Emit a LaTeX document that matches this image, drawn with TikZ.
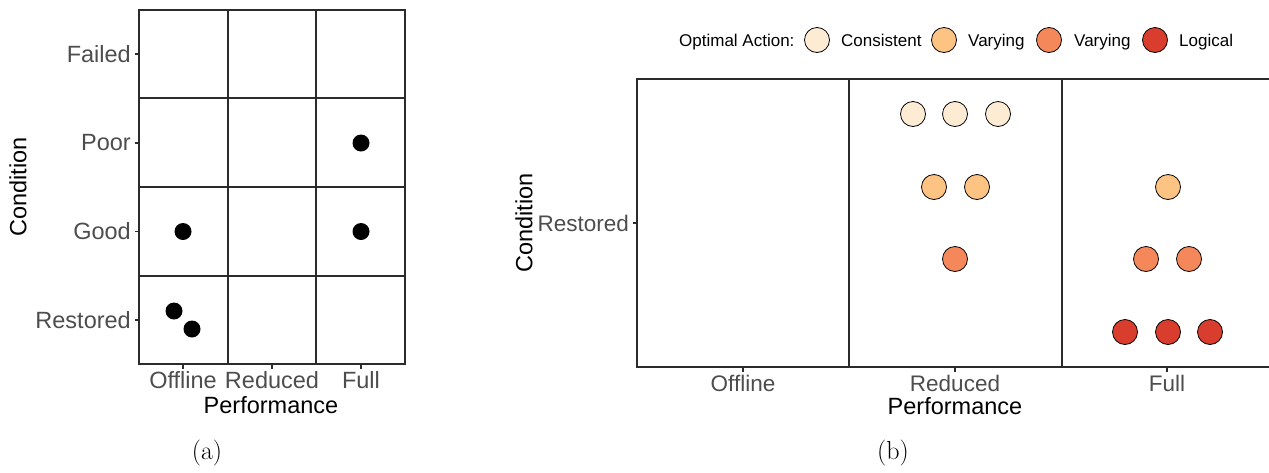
\documentclass[tikz,border=0pt]{standalone}
\usepackage{fontspec}
\newfontfamily\arial{Liberation Sans}
\definecolor{tickgray}{HTML}{4D4D4D}
\definecolor{framegray}{HTML}{2B2B2B}
\definecolor{cons}{HTML}{FDEBD4}
\definecolor{varyA}{HTML}{FDC382}
\definecolor{varyB}{HTML}{F4885B}
\definecolor{logic}{HTML}{D93D2D}
\begin{document}
\begin{tikzpicture}[x=1pt,y=-1pt,
  ticklab/.style={font=\arial\fontsize{22.5}{24}\selectfont, text=tickgray, inner sep=0pt},
  ticklabA/.style={font=\arial\fontsize{23.5}{25}\selectfont, text=tickgray, inner sep=0pt},
  axtitle/.style={font=\arial\fontsize{23.5}{25}\selectfont, text=black, inner sep=0pt},
  legtext/.style={font=\arial\fontsize{17}{19}\selectfont, text=black, inner sep=0pt, anchor=base west},
  capt/.style={font=\fontsize{26}{28}\selectfont, inner sep=0pt},
  gridline/.style={draw=framegray, line width=1.4pt},
  tickmark/.style={draw=framegray, line width=1.1pt},
  bdot/.style={circle, fill=black, inner sep=0pt, minimum size=17pt},
  pt/.style={circle, draw=black, line width=0.8pt, inner sep=0pt, minimum size=25pt, fill=#1},
  legpt/.style={circle, draw=black, line width=0.8pt, inner sep=0pt, minimum size=25pt, fill=#1}
]
\useasboundingbox (0,0) rectangle (1269,472);

% ---------------- Panel (a) ----------------
\draw[gridline] (139,10) rectangle (405,364);
\draw[gridline] (228,10) -- (228,364);
\draw[gridline] (316,10) -- (316,364);
\draw[gridline] (139,98) -- (405,98);
\draw[gridline] (139,187) -- (405,187);
\draw[gridline] (139,276) -- (405,276);

\foreach \yy/\lab/\nm in {54/Failed/failed, 143/Poor/poor, 231.5/Good/good, 320/Restored/restored}{
  \draw[tickmark] (134.5,\yy) -- (139,\yy);
  \node[ticklabA, anchor=east] (a-\nm) at (131,\yy) {\lab};
}
\foreach \xx/\lab/\nm in {183/Offline/offline, 272/Reduced/reduced, 361/Full/full}{
  \draw[tickmark] (\xx,364) -- (\xx,368.5);
  \node[ticklabA, anchor=base] (a-\nm) at (\xx,388) {\lab};
}
\node[axtitle, anchor=base] (a-perf) at (271,413) {Performance};
\node[axtitle, rotate=90] (a-cond) at (18,187) {Condition};

\node[bdot] (a-d1) at (361,143) {};
\node[bdot] (a-d2) at (183,231.5) {};
\node[bdot] (a-d3) at (361,231.5) {};
\node[bdot] (a-d4) at (174,311) {};
\node[bdot] (a-d5) at (192,329) {};

\node[capt] (cap-a) at (207,453) {(a)};

% ---------------- Panel (b) ----------------
\draw[gridline] (1275,79) -- (637,79) -- (637,367) -- (1275,367);
\draw[gridline] (849,79) -- (849,367);
\draw[gridline] (1062,79) -- (1062,367);

\draw[tickmark] (632.5,223) -- (637,223);
\node[ticklab, anchor=east] (b-restored) at (629,223) {Restored};
\foreach \xx/\lab/\nm in {743/Offline/offline, 955/Reduced/reduced, 1167/Full/full}{
  \draw[tickmark] (\xx,367) -- (\xx,371.5);
  \node[ticklab, anchor=base] (b-\nm) at (\xx,391) {\lab};
}
\node[axtitle, anchor=base] (b-perf) at (955,414) {Performance};
\node[axtitle, rotate=90] (b-cond) at (524,223) {Condition};

% points
\node[pt=cons] (p1) at (913,114) {};
\node[pt=cons] (p2) at (955,114) {};
\node[pt=cons] (p3) at (998,114) {};
\node[pt=varyA] (p4) at (934,187) {};
\node[pt=varyA] (p5) at (977,187) {};
\node[pt=varyA] (p6) at (1168,187) {};
\node[pt=varyB] (p7) at (955,259) {};
\node[pt=varyB] (p8) at (1146,259) {};
\node[pt=varyB] (p9) at (1189,259) {};
\node[pt=logic] (p10) at (1125,332) {};
\node[pt=logic] (p11) at (1168,332) {};
\node[pt=logic] (p12) at (1210,332) {};

% legend
\node[legtext] (leg-title) at (679,46) {Optimal Action:};
\node[legpt=cons] (leg-c1) at (817,40) {};
\node[legtext] (leg-t1) at (841,46) {Consistent};
\node[legpt=varyA] (leg-c2) at (944,40) {};
\node[legtext] (leg-t2) at (968,46) {Varying};
\node[legpt=varyB] (leg-c3) at (1049,40) {};
\node[legtext] (leg-t3) at (1074,46) {Varying};
\node[legpt=logic] (leg-c4) at (1155,40) {};
\node[legtext] (leg-t4) at (1179,46) {Logical};

\node[capt] (cap-b) at (893,453) {(b)};
\end{tikzpicture}
\end{document}
